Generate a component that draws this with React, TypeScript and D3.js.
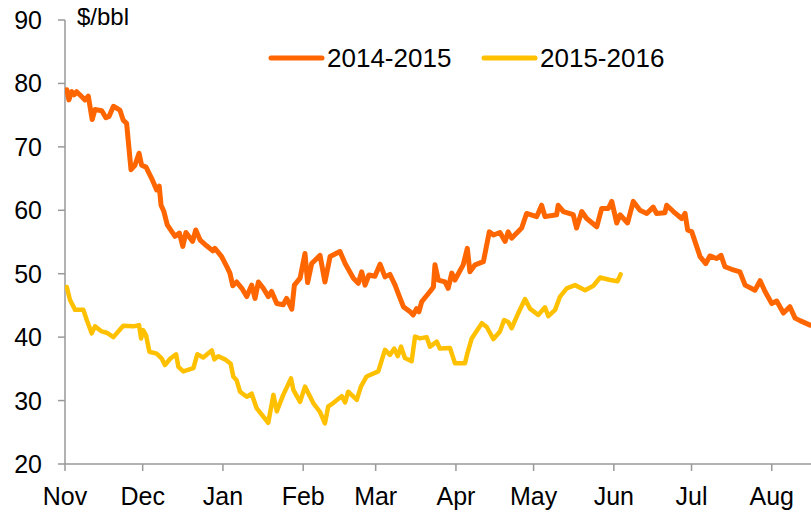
import React from "react";
import * as d3 from "d3";

// Day offsets from 1 November, and prices in $/bbl
const days1415 = [0.7, 1.5, 2.6, 3.5, 4.5, 6.5, 7.7, 9.0, 10.5, 11.6, 14.2, 15.8, 17.0, 18.7, 21.2, 22.5, 23.8, 25.5, 27.0, 28.6, 29.6, 31.3, 33.5, 35.4, 36.4, 37.1, 38.2, 39.5, 42.5, 44.2, 45.5, 46.7, 49.3, 50.5, 52.2, 54.7, 57.1, 57.9, 60.5, 62.5, 63.7, 64.8, 66.3, 68.3, 70.2, 72.1, 73.4, 74.7, 76.6, 78.5, 79.8, 81.8, 84.3, 85.6, 87.6, 88.6, 90.8, 92.7, 93.7, 95.3, 98.5, 100.4, 102.4, 106.2, 108.2, 111.4, 113.3, 114.6, 115.9, 117.4, 119.7, 121.7, 123.6, 125.5, 127.5, 128.7, 130.7, 133.3, 134.5, 135.8, 136.7, 137.8, 138.4, 141.0, 142.3, 142.9, 144.2, 146.8, 148.0, 149.4, 150.6, 153.8, 155.4, 156.4, 158.4, 161.6, 163.9, 165.5, 168.0, 170.0, 171.2, 172.5, 176.4, 178.3, 182.2, 184.1, 185.4, 189.9, 190.5, 192.5, 196.3, 197.6, 199.6, 201.5, 205.4, 207.3, 209.9, 211.2, 213.1, 214.4, 217.3, 219.5, 222.1, 224.7, 227.2, 228.5, 231.7, 232.4, 235.0, 238.2, 239.5, 240.5, 242.1, 245.3, 247.5, 249.1, 251.7, 253.4, 254.9, 257.5, 260.7, 262.7, 266.5, 268.5, 270.4, 273.0, 274.9, 277.5, 280.0, 282.0, 283.9, 287.8];
const prices1415 = [79.0, 77.4, 78.7, 78.2, 78.7, 77.9, 77.4, 78.0, 74.3, 75.9, 75.7, 74.6, 74.8, 76.4, 75.8, 74.2, 73.7, 66.4, 67.1, 69.0, 67.1, 66.8, 65.0, 63.2, 63.8, 60.8, 59.8, 57.7, 55.9, 56.4, 54.3, 56.5, 55.1, 56.9, 55.3, 54.4, 53.6, 54.0, 52.7, 51.1, 50.1, 48.1, 48.7, 47.7, 46.4, 48.2, 46.1, 48.7, 47.7, 46.4, 47.2, 45.3, 45.1, 46.1, 44.4, 48.2, 49.3, 53.2, 48.6, 51.6, 52.9, 48.7, 52.7, 53.5, 51.6, 49.3, 48.5, 50.3, 48.2, 49.8, 49.6, 51.5, 49.5, 49.9, 48.2, 46.9, 44.8, 44.0, 43.5, 44.5, 44.0, 45.6, 45.9, 47.2, 47.9, 51.4, 49.0, 48.7, 47.7, 50.1, 49.0, 51.4, 54.0, 50.3, 51.4, 51.9, 56.6, 56.1, 56.5, 55.1, 56.6, 55.6, 57.2, 59.5, 59.0, 60.8, 59.0, 59.3, 60.8, 59.8, 59.3, 57.2, 59.8, 58.7, 57.4, 60.3, 60.3, 61.4, 58.0, 59.3, 58.0, 61.4, 60.0, 59.5, 60.5, 59.5, 59.6, 60.8, 59.8, 58.7, 59.5, 56.9, 56.6, 52.7, 51.6, 52.8, 52.4, 52.9, 51.1, 50.7, 50.3, 48.2, 47.4, 48.9, 47.2, 45.3, 45.7, 43.8, 44.8, 43.0, 42.6, 41.9];

const days1516 = [0.7, 1.9, 3.9, 7.1, 8.4, 10.3, 11.6, 14.2, 16.1, 18.7, 22.5, 26.4, 28.6, 29.4, 30.2, 31.3, 32.6, 35.4, 37.4, 38.6, 40.6, 42.9, 43.8, 45.7, 49.6, 51.1, 53.4, 56.7, 57.7, 59.2, 61.8, 64.0, 65.0, 66.3, 67.6, 70.2, 72.1, 74.0, 78.5, 80.5, 81.8, 84.3, 87.3, 88.2, 90.8, 92.7, 95.9, 98.5, 100.4, 101.7, 103.6, 106.9, 108.2, 109.4, 112.7, 114.3, 116.5, 121.0, 123.6, 125.5, 127.2, 128.5, 129.8, 131.3, 133.9, 135.2, 137.1, 139.7, 141.0, 143.6, 144.8, 148.7, 150.6, 154.5, 155.4, 157.1, 161.0, 162.9, 165.5, 168.0, 169.6, 171.2, 172.5, 175.1, 177.7, 179.6, 182.8, 185.4, 186.7, 189.3, 191.2, 193.8, 197.0, 200.9, 204.1, 206.7, 210.6, 213.4, 214.6];
const prices1516 = [47.9, 45.9, 44.3, 44.3, 42.7, 40.6, 41.7, 40.9, 40.7, 40.0, 41.8, 41.7, 41.9, 39.8, 41.1, 40.3, 37.7, 37.4, 36.6, 35.6, 36.6, 37.3, 35.3, 34.6, 35.1, 37.3, 36.8, 37.9, 36.5, 37.0, 36.5, 35.8, 33.8, 33.2, 31.4, 30.6, 31.1, 28.8, 26.5, 30.9, 28.3, 30.9, 33.5, 31.7, 29.8, 32.2, 29.6, 28.2, 26.4, 29.1, 29.6, 30.7, 29.7, 31.4, 30.1, 32.2, 33.8, 34.6, 38.0, 37.2, 38.2, 37.0, 38.5, 36.7, 36.2, 40.1, 39.8, 40.0, 38.5, 39.3, 38.2, 38.3, 35.9, 35.9, 37.4, 39.8, 42.2, 41.6, 39.7, 40.9, 42.7, 42.4, 41.4, 43.8, 46.0, 44.5, 43.5, 44.7, 43.3, 44.3, 46.4, 47.7, 48.2, 47.4, 48.1, 49.4, 49.0, 48.8, 49.9];

const seriesNames = ["2014-2015", "2015-2016"];
const seriesColors = ["#FF6600", "#FFC000"];
const yTicks = [20, 30, 40, 50, 60, 70, 80, 90];
const unitLabel = "$/bbl";

const W = 811;
const H = 512;
const margin = { left: 65, top: 20, bottom: 48 };
const axisStart = new Date(Date.UTC(2014, 10, 1));
const axisEnd = new Date(Date.UTC(2015, 7, 20));
const dayMax = 288.15;

export default function App() {
  const x = d3.scaleLinear().domain([0, dayMax]).range([margin.left, W]);
  const y = d3.scaleLinear().domain([20, 90]).range([H - margin.bottom, margin.top]);
  const monthTicks = d3.utcMonth.range(axisStart, axisEnd).map((d) => ({
    day: d3.utcDay.count(axisStart, d),
    label: d3.utcFormat("%b")(d),
  }));
  const line = d3
    .line<[number, number]>()
    .x((d) => x(d[0]))
    .y((d) => y(d[1]));
  const s1: [number, number][] = days1415.map((d, i) => [d, prices1415[i]]);
  const s2: [number, number][] = days1516.map((d, i) => [d, prices1516[i]]);
  const axisColor = "#999999";
  const font = "Liberation Sans, Arial, sans-serif";
  const y0 = y(20);
  return (
    <svg
      width={W}
      height={H}
      style={{ position: "absolute", left: 0, top: 0, background: "#fff" }}
      fontFamily={font}
    >
      <defs>
        <clipPath id="plot">
          <rect x={margin.left} y={0} width={W - margin.left} height={H} />
        </clipPath>
      </defs>
      {/* y axis */}
      <line x1={margin.left} x2={margin.left} y1={y(90)} y2={y0} stroke={axisColor} strokeWidth={1.5} />
      {yTicks.map((t) => (
        <g key={t}>
          <line x1={margin.left - 7} x2={margin.left} y1={y(t)} y2={y(t)} stroke={axisColor} strokeWidth={1.5} />
          <text x={42} y={y(t)} dy="0.36em" textAnchor="end" fontSize={25} fill="#000">
            {t}
          </text>
        </g>
      ))}
      {/* x axis */}
      <line x1={margin.left} x2={W} y1={y0} y2={y0} stroke={axisColor} strokeWidth={1.5} />
      {monthTicks.map((m) => (
        <g key={m.label}>
          <line x1={x(m.day)} x2={x(m.day)} y1={y0} y2={y0 + 7} stroke={axisColor} strokeWidth={1.5} />
          <text x={x(m.day)} y={505} textAnchor="middle" fontSize={25} fill="#000">
            {m.label}
          </text>
        </g>
      ))}
      <text x={77} y={25} fontSize={24} fill="#000">
        {unitLabel}
      </text>
      <g clipPath="url(#plot)">
        <path d={line(s2) || ""} fill="none" stroke={seriesColors[1]} strokeWidth={4.5} strokeLinejoin="round" strokeLinecap="round" />
        <path d={line(s1) || ""} fill="none" stroke={seriesColors[0]} strokeWidth={5} strokeLinejoin="round" strokeLinecap="round" />
      </g>
      {/* legend */}
      {seriesNames.map((n, i) => {
        const lx = i === 0 ? 271 : 484;
        return (
          <g key={n}>
            <line x1={lx} x2={lx + 51} y1={58} y2={58} stroke={seriesColors[i]} strokeWidth={5} strokeLinecap="round" />
            <text x={lx + 56} y={67} fontSize={26} fill="#000">
              {n}
            </text>
          </g>
        );
      })}
    </svg>
  );
}
